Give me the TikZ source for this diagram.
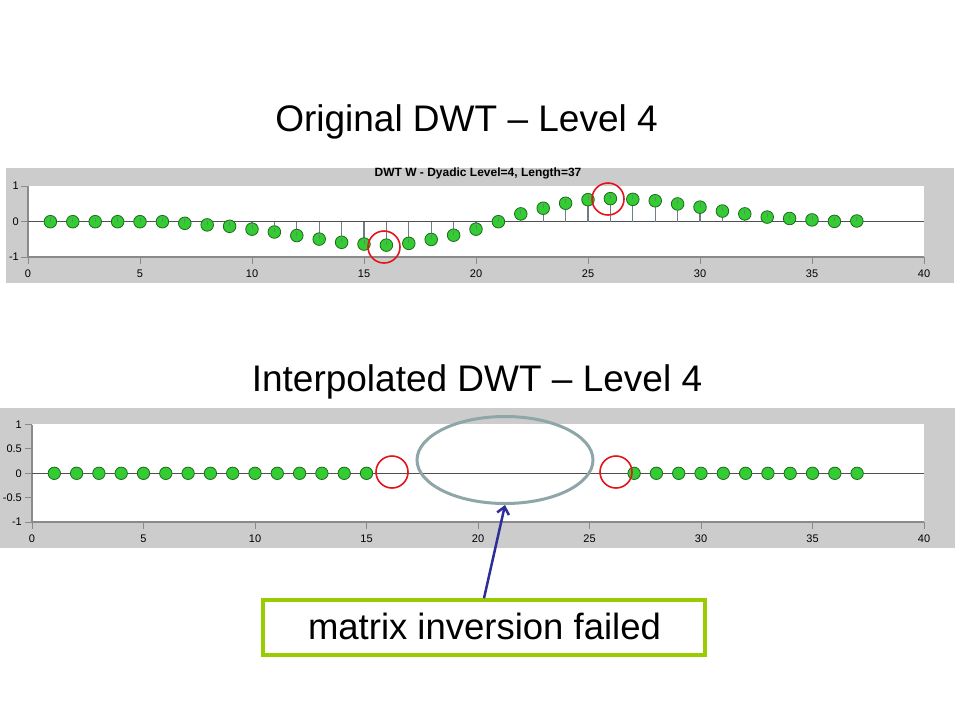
\documentclass[tikz,border=0pt]{standalone}
\usepackage{fontspec}
\setmainfont{Liberation Sans}
\usetikzlibrary{arrows.meta,shapes.geometric}
\definecolor{panelgray}{HTML}{CCCCCC}
\definecolor{axisgray}{HTML}{8A8A8A}
\definecolor{zerogray}{HTML}{505050}
\definecolor{stemgray}{HTML}{6E7E88}
\definecolor{dotfill}{HTML}{33CC33}
\definecolor{dotline}{HTML}{1F6A1F}
\definecolor{markred}{HTML}{E3141B}
\definecolor{ellgray}{HTML}{8FA6A9}
\definecolor{navy}{HTML}{2E2E99}
\definecolor{boxgreen}{HTML}{99CC00}
\tikzset{
  dotmark/.style={fill=dotfill,draw=dotline,line width=0.8pt},
  stemline/.style={draw=stemgray,line width=1.1pt},
  ticklab/.style={font=\fontsize{11}{12}\selectfont,inner sep=0pt},
  headline/.style={font=\fontsize{37}{40}\selectfont,anchor=base,inner sep=0pt},
  redring/.style={draw=markred,line width=1.6pt},
  axisline/.style={draw=axisgray,line width=1.6pt},
}
\begin{document}
\begin{tikzpicture}[x=1pt,y=-1pt]
\useasboundingbox (0,0) rectangle (960,720);
\fill[white] (0,0) rectangle (960,720);

% ---------- titles ----------
\node[headline] (t1) at (466.5,131) {Original DWT -- Level 4};
\node[headline] (t2) at (477,391) {Interpolated DWT -- Level 4};

% ---------- top panel ----------
\fill[panelgray] (6,168) rectangle (954,283);
\fill[white] (28,186) rectangle (924,257);
\node[font=\bfseries\fontsize{12}{13}\selectfont,inner sep=0pt] (ptitle) at (478,173) {DWT W - Dyadic Level=4, Length=37};
\begin{scope}[shift={(28,221.7)},x={(22.4pt,0pt)},y={(0pt,35.5pt)}]
  \draw[axisline] (0,-1) -- (40,-1);
  \draw[axisline] (0,-1) -- (0,1);
  \foreach \t in {0,5,...,40} {
    \draw[axisgray,line width=1pt] (\t,-1) -- ++(0pt,-7pt);
    \node[ticklab] (tx\t) at ([yshift=-17pt]\t,-1) {\t};
  }
  \foreach \v/\l in {1/1,0/0,-1/-1} {
    \draw[axisgray,line width=1pt] (0,\v) -- ++(-7pt,0pt);
    \node[ticklab,anchor=east] (ty\v) at ([xshift=-9pt]0,\v) {\l};
  }
  \draw[zerogray,line width=1pt] (0,0) -- (40,0);
  \foreach \t/\v in {1/0,2/0,3/0,4/0,5/0,6/0,7/-0.045,8/-0.09,9/-0.13,10/-0.21,
     11/-0.29,12/-0.39,13/-0.49,14/-0.58,15/-0.63,16/-0.66,17/-0.61,18/-0.5,19/-0.38,20/-0.21,
     21/0,22/0.22,23/0.38,24/0.52,25/0.62,26/0.65,27/0.63,28/0.59,29/0.5,30/0.41,
     31/0.3,32/0.22,33/0.13,34/0.09,35/0.05,36/0.01,37/0.02} {
    \draw[stemline] (\t,0) -- (\t,\v);
    \filldraw[dotmark] (\t,\v) circle[radius=6.3pt];
    \draw[stemgray,line width=0.8pt] (\t,\v) -- ++(0pt,4pt);
  }
\end{scope}
\draw[redring] (384,247) circle[radius=16pt];
\draw[redring] (608,199) circle[radius=16pt];

% ---------- bottom panel ----------
\fill[panelgray] (0,408) rectangle (955,548);
\fill[white] (32,424) rectangle (924,522);
\begin{scope}[shift={(32,473.3)},x={(22.3pt,0pt)},y={(0pt,48.7pt)}]
  \draw[axisline] (0,-1) -- (40,-1);
  \draw[axisline] (0,-1) -- (0,1);
  \foreach \t in {0,5,...,40} {
    \draw[axisgray,line width=1pt] (\t,-1) -- ++(0pt,-7pt);
    \node[ticklab] (bx\t) at ([yshift=-17pt]\t,-1) {\t};
  }
  \foreach \v/\l/\n in {1/1/a,0.5/0.5/b,0/0/c,-0.5/-0.5/d,-1/-1/e} {
    \draw[axisgray,line width=1pt] (0,\v) -- ++(-7pt,0pt);
    \node[ticklab,anchor=east] (by\n) at ([xshift=-10pt]0,\v) {\l};
  }
  \draw[zerogray,line width=1pt] (0,0) -- (40,0);
  \foreach \t in {1,...,15,27,28,...,37} {
    \filldraw[dotmark] (\t,0) circle[radius=6.2pt];
  }
\end{scope}
\draw[redring] (392,472) circle[radius=16pt];
\draw[redring] (616,472) circle[radius=16pt];

% ---------- annotation ----------
\node[draw=ellgray,line width=3pt,ellipse,inner sep=0pt,
      minimum width=176pt,minimum height=87pt] (ell) at (505,460) {};
\node[draw=boxgreen,line width=3.5pt,rectangle,inner sep=0pt,
      minimum width=442pt,minimum height=55pt] (box) at (484,627.5) {};
\node[font=\fontsize{36.5}{40}\selectfont,anchor=base,inner sep=0pt] (boxtext) at (484.5,639) {matrix inversion failed};
\draw[navy,line width=2.5pt,-{Straight Barb[length=7pt,width=12pt]}] (box.north) -- (ell.south);
\end{tikzpicture}
\end{document}
